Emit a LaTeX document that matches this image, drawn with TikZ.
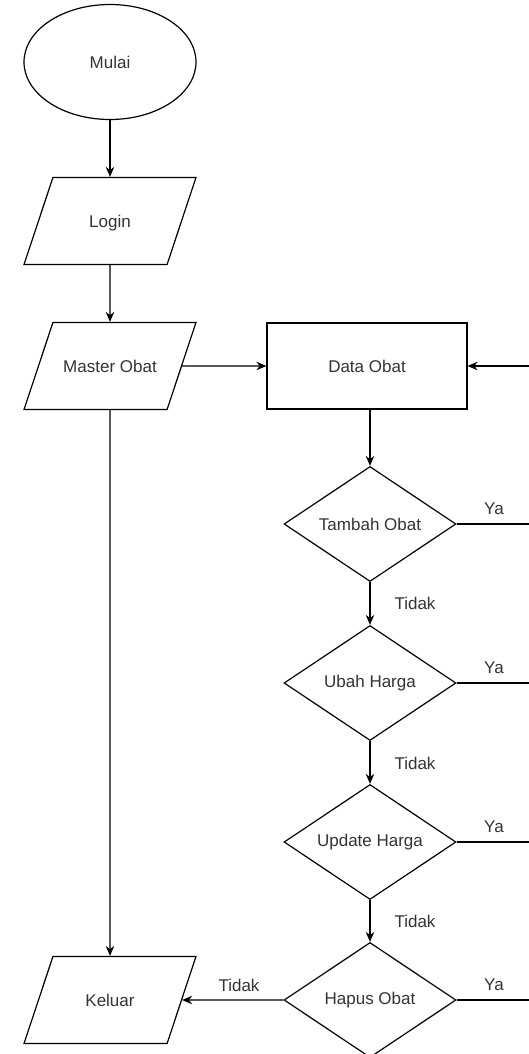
\documentclass[tikz,border=0pt]{standalone}
\usepackage{fontspec}
\setmainfont{Liberation Sans}
\usetikzlibrary{shapes.geometric,arrows.meta}

\begin{document}
\begin{tikzpicture}[x=1pt, y=-1pt, line width=1.2pt,
    every node/.style={font=\fontsize{17}{20}\selectfont, text=black!80}]
  \tikzstyle{terminal} = [ellipse, draw=black, inner sep=0pt, minimum width=172pt, minimum height=115pt]
  \tikzstyle{io} = [trapezium, trapezium left angle=71.6, trapezium right angle=108.4, trapezium stretches body, draw=black, inner xsep=4pt, inner ysep=35pt, text height=14.6pt, text depth=2.4pt, minimum width=172pt]
  \tikzstyle{process} = [rectangle, draw=black, minimum width=200pt, minimum height=86pt]
  \tikzstyle{decision} = [diamond, draw=black, aspect=1.5, inner sep=0pt, minimum width=172pt, minimum height=115pt]
  \tikzstyle{flow} = [-{Stealth[length=10pt, width=8.5pt]}]
  \tikzstyle{plain} = [-]

  \useasboundingbox (0,0) rectangle (529,1054);

  \node[terminal] (mulai) at (110,62) {Mulai};
  \node[io] (login) at (110,221) {Login};
  \node[io] (master) at (110,366) {Master Obat};
  \node[process] (data) at (367,366) {Data Obat};
  \node[decision] (tambah) at (370,524) {Tambah Obat};
  \node[decision] (ubah) at (370,683) {Ubah Harga};
  \node[decision] (update) at (370,842) {Update Harga};
  \node[decision] (hapus) at (370,1000) {Hapus Obat};
  \node[io] (keluar) at (110,1000) {Keluar};

  \coordinate (balik) at (529,366);
  \coordinate (ya1) at (529,524);
  \coordinate (ya2) at (529,683);
  \coordinate (ya3) at (529,842);
  \coordinate (ya4) at (529,1000);

  \node (lya1) at (494,509) {Ya};
  \node (lya2) at (494,668) {Ya};
  \node (lya3) at (494,827) {Ya};
  \node (lya4) at (494,985) {Ya};
  \node (ltidak1) at (415,603) {Tidak};
  \node (ltidak2) at (415,763) {Tidak};
  \node (ltidak3) at (415,921) {Tidak};
  \node (ltidak4) at (239,985) {Tidak};

  \draw[flow] (mulai) -- (login);
  \draw[flow] (login) -- (master);
  \draw[flow] (master) -- (data);
  \draw[flow] (master) -- (keluar);
  \draw[flow] (balik) -- (data);
  \draw[flow] (data.south -| tambah) -- (tambah);

  \draw[flow] (tambah) -- (ubah);
  \draw[flow] (ubah) -- (update);
  \draw[flow] (update) -- (hapus);
  \draw[flow] (hapus) -- (keluar);

  \draw[plain] (tambah) -- (ya1);
  \draw[plain] (ubah) -- (ya2);
  \draw[plain] (update) -- (ya3);
  \draw[plain] (hapus) -- (ya4);
\end{tikzpicture}
\end{document}
